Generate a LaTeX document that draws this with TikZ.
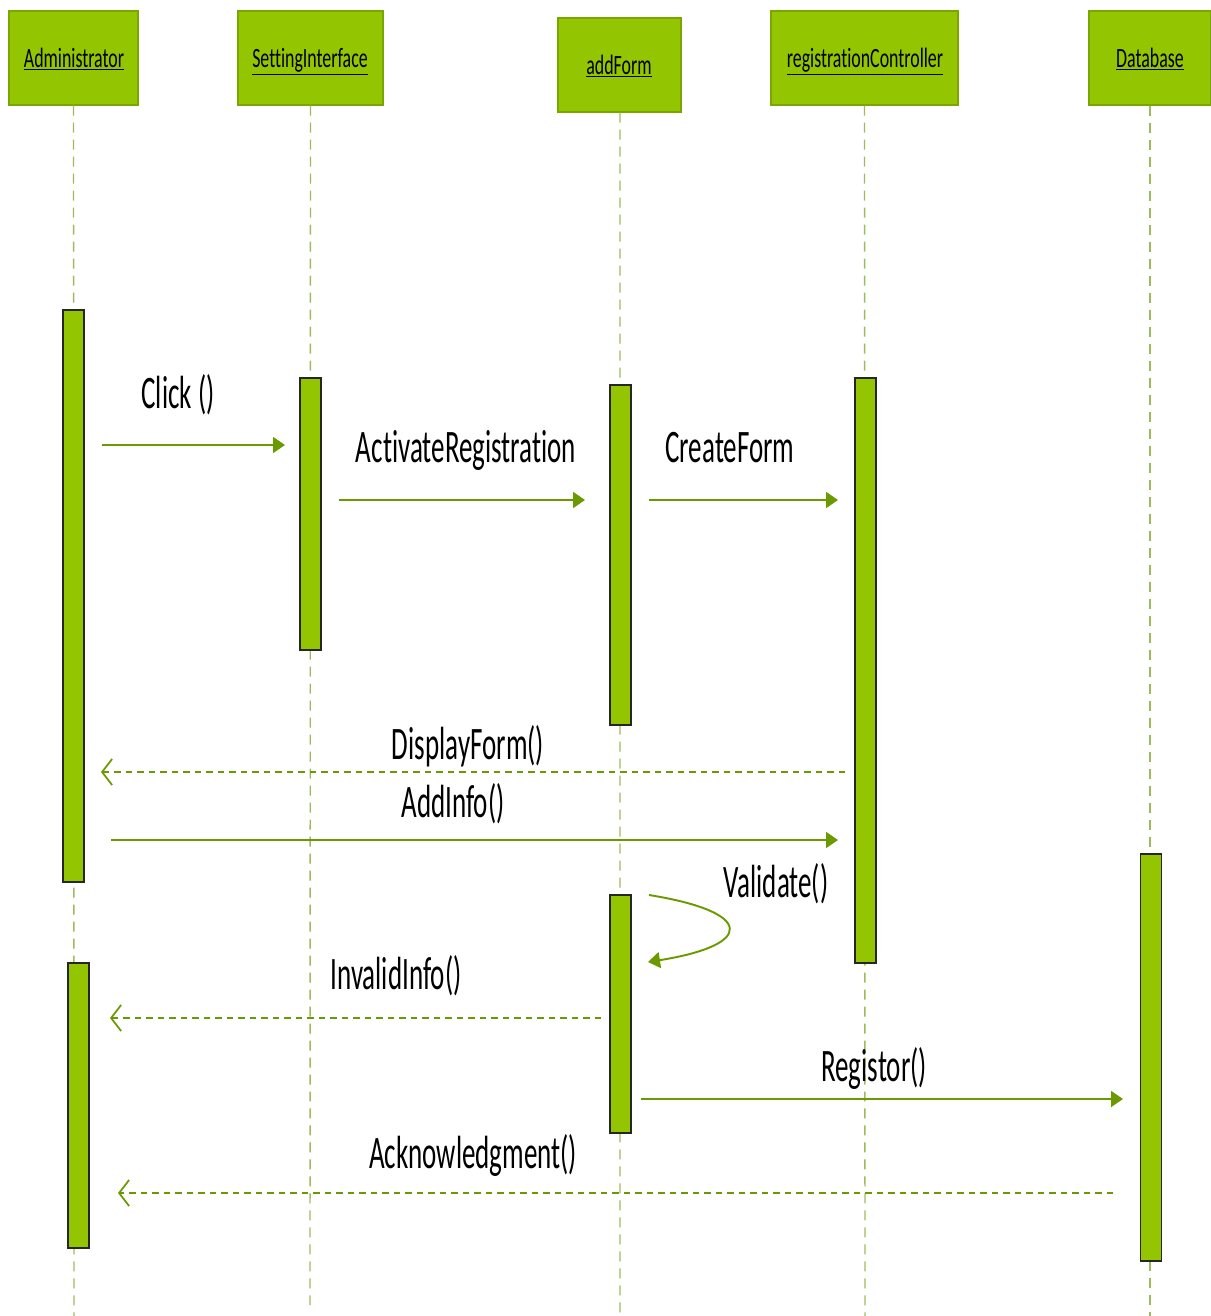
\documentclass[tikz,border=0pt]{standalone}
\usepackage{fontspec}
\setmainfont{Carlito}
\newfontfamily\headfont[FakeStretch=0.64, Ligatures=NoCommon]{Carlito}
\newfontfamily\msgfont[FakeStretch=0.58, Ligatures=NoCommon]{Carlito}
\usetikzlibrary{arrows.meta}
\definecolor{limefill}{HTML}{93C500}
\definecolor{limeedge}{HTML}{7AA600}
\definecolor{msggreen}{HTML}{6A9A00}
\definecolor{lifegreen}{HTML}{9DBB5A}

\begin{document}
\begin{tikzpicture}[x=0.02cm, y=-0.02cm,
  objbox/.style={draw=limeedge, fill=limefill, line width=0.8pt, minimum height=1.88cm,
    inner sep=0pt, font=\headfont\fontsize{15.9}{18}\selectfont},
  lifeline/.style={draw=lifegreen, line width=0.8pt, dash pattern=on 0.2cm off 0.14cm},
  actbar/.style={draw=black!85, fill=limefill, line width=0.8pt, minimum width=0.42cm, inner sep=0pt},
  callmsg/.style={draw=msggreen, line width=1.1pt, -{Triangle[length=0.24cm, width=0.32cm]}},
  replymsg/.style={draw=msggreen, line width=1.1pt, dash pattern=on 0.13cm off 0.1cm,
    -{Straight Barb[length=0.2cm, width=0.52cm, line width=1pt]}},
  msglabel/.style={anchor=base, inner sep=0pt, font=\msgfont\fontsize{26.5}{30}\selectfont}]

% Page size (reference pixels)
\useasboundingbox (0,0) rectangle (1211,1316);

% Objects
\node[objbox, minimum width=2.58cm] (admin) at (73.5,58) {};
\node[objbox, minimum width=2.9cm] (setting) at (310.5,58) {};
\node[objbox, minimum width=2.46cm] (addform) at (619.5,65) {};
\node[objbox, minimum width=3.74cm] (regctl) at (864.5,58) {};
\node[objbox, minimum width=2.44cm] (database) at (1150,58) {};

\node[anchor=base, inner sep=0pt, font=\headfont\fontsize{15.9}{18}\selectfont] (tadmin) at (74,67) {\underline{Administrator}};
\node[anchor=base, inner sep=0pt, font=\headfont\fontsize{15.9}{18}\selectfont] (tsetting) at (310,67) {\underline{SettingInterface}};
\node[anchor=base, inner sep=0pt, font=\headfont\fontsize{15.9}{18}\selectfont] (taddform) at (619,74) {\underline{addForm}};
\node[anchor=base, inner sep=0pt, font=\headfont\fontsize{15.9}{18}\selectfont] (tregctl) at (865,67) {\underline{registrationController}};
\node[anchor=base, inner sep=0pt, font=\headfont\fontsize{15.9}{18}\selectfont] (tdatabase) at (1150,67) {\underline{Database}};

% Lifelines
\coordinate (adminEnd) at (74,1316);
\coordinate (settingEnd) at (310,1305);
\coordinate (addformEnd) at (620,1316);
\coordinate (regctlEnd) at (865,1316);
\coordinate (databaseEnd) at (1150,1316);
\draw[lifeline] (admin.south) -- (adminEnd);
\draw[lifeline] (setting.south) -- (settingEnd);
\draw[lifeline] ([xshift=0.01cm]addform.south) -- (addformEnd);
\draw[lifeline] (regctl.south) -- (regctlEnd);
\draw[lifeline] (database.south) -- (databaseEnd);

% Activation bars
\node[actbar, minimum height=11.44cm] (adminBarA) at (73.5,596) {};
\node[actbar, minimum height=5.7cm] (adminBarB) at (78.5,1105.5) {};
\node[actbar, minimum height=5.44cm] (settingBar) at (310.5,514) {};
\node[actbar, minimum height=6.8cm] (addformBarA) at (620.5,555) {};
\node[actbar, minimum height=4.76cm] (addformBarB) at (620.5,1014) {};
\node[actbar, minimum height=11.7cm] (regctlBar) at (865.5,670.5) {};
\node[actbar, minimum height=8.14cm] (databaseBar) at (1151,1057.5) {};

% Message ends
\coordinate (clickS) at (102,445);      \coordinate (clickE) at (285,445);
\coordinate (activS) at (339,500);      \coordinate (activE) at (585,500);
\coordinate (createS) at (649,500);     \coordinate (createE) at (838,500);
\coordinate (displayS) at (845,772);    \coordinate (displayE) at (101,772);
\coordinate (addinfoS) at (111,840);    \coordinate (addinfoE) at (838,840);
\coordinate (validS) at (649,895);      \coordinate (validE) at (648,962);
\coordinate (invalidS) at (601,1018);   \coordinate (invalidE) at (110,1018);
\coordinate (registS) at (641,1099);    \coordinate (registE) at (1123,1099);
\coordinate (ackS) at (1113,1193);      \coordinate (ackE) at (118,1193);

% Messages
\draw[callmsg] (clickS) -- (clickE);
\draw[callmsg] (activS) -- (activE);
\draw[callmsg] (createS) -- (createE);
\draw[replymsg] (displayS) -- (displayE);
\draw[callmsg] (addinfoS) -- (addinfoE);
\draw[callmsg] (validS) .. controls (755,912) and (755,945) .. (validE);
\draw[replymsg] (invalidS) -- (invalidE);
\draw[callmsg] (registS) -- (registE);
\draw[replymsg] (ackS) -- (ackE);

% Message labels
\node[msglabel] (lclick) at (178,408) {Click ()};
\node[msglabel] (lactiv) at (466,462) {ActivateRegistration};
\node[msglabel] (lcreate) at (730,462) {CreateForm};
\node[msglabel] (ldisplay) at (468,759) {DisplayForm()};
\node[msglabel] (laddinfo) at (453,817) {AddInfo()};
\node[msglabel] (lvalid) at (776,897) {Validate()};
\node[msglabel] (linvalid) at (396,989) {InvalidInfo()};
\node[msglabel] (lregist) at (874,1081) {Registor()};
\node[msglabel] (lack) at (473,1168) {Acknowledgment()};

\end{tikzpicture}
\end{document}
